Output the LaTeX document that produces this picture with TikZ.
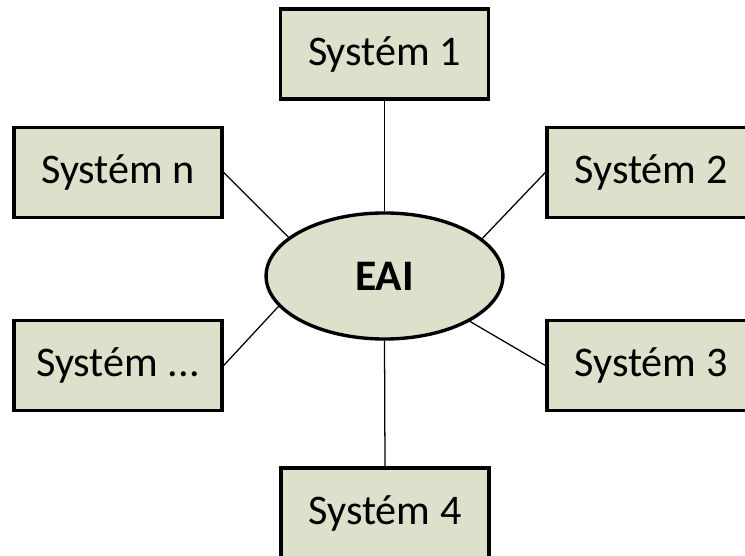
\documentclass[tikz,border=0pt]{standalone}
\usepackage{fontspec}
\setmainfont{Carlito}
\usetikzlibrary{shapes.geometric}
\definecolor{boxfill}{RGB}{221,224,202}
\newcommand{\sysdots}{...}
\tikzstyle{sysbox}=[rectangle,draw=black,fill=boxfill,line width=2.4pt,minimum width=5.2cm,minimum height=2.25cm,inner sep=0pt,font=\fontsize{30}{36}\selectfont]
\tikzstyle{hub}=[ellipse,draw=black,fill=boxfill,line width=2.4pt,minimum width=5.92cm,minimum height=3.15cm,inner sep=0pt,font=\fontsize{31}{36}\selectfont\bfseries]
\tikzstyle{link}=[line width=0.9pt]

\begin{document}
\begin{tikzpicture}[x=0.025cm,y=-0.025cm]
          \useasboundingbox (0,0) rectangle (745,556);
          \node[hub] (EAI) at (384.5,276) {EAI};
          \foreach \name/\pos/\text in {1/{384.5,54}/1, 2/{651,172.5}/2,
                                        3/{651,365.5}/3, 4/{385,513}/4,
                                        n/{118,172.5}/n, dots/{118,365.5}/\sysdots}
            \node[sysbox] (S-\name) at (\pos) {Systém \text};
          \foreach \name/\side/\angle in {1/south/90, 2/west/21.3, 3/west/-28.3,
                                          4/north/270, n/east/158.7, dots/east/196.9}
            \draw[link] (S-\name.\side) -- (EAI.\angle);
        \end{tikzpicture}
\end{document}
